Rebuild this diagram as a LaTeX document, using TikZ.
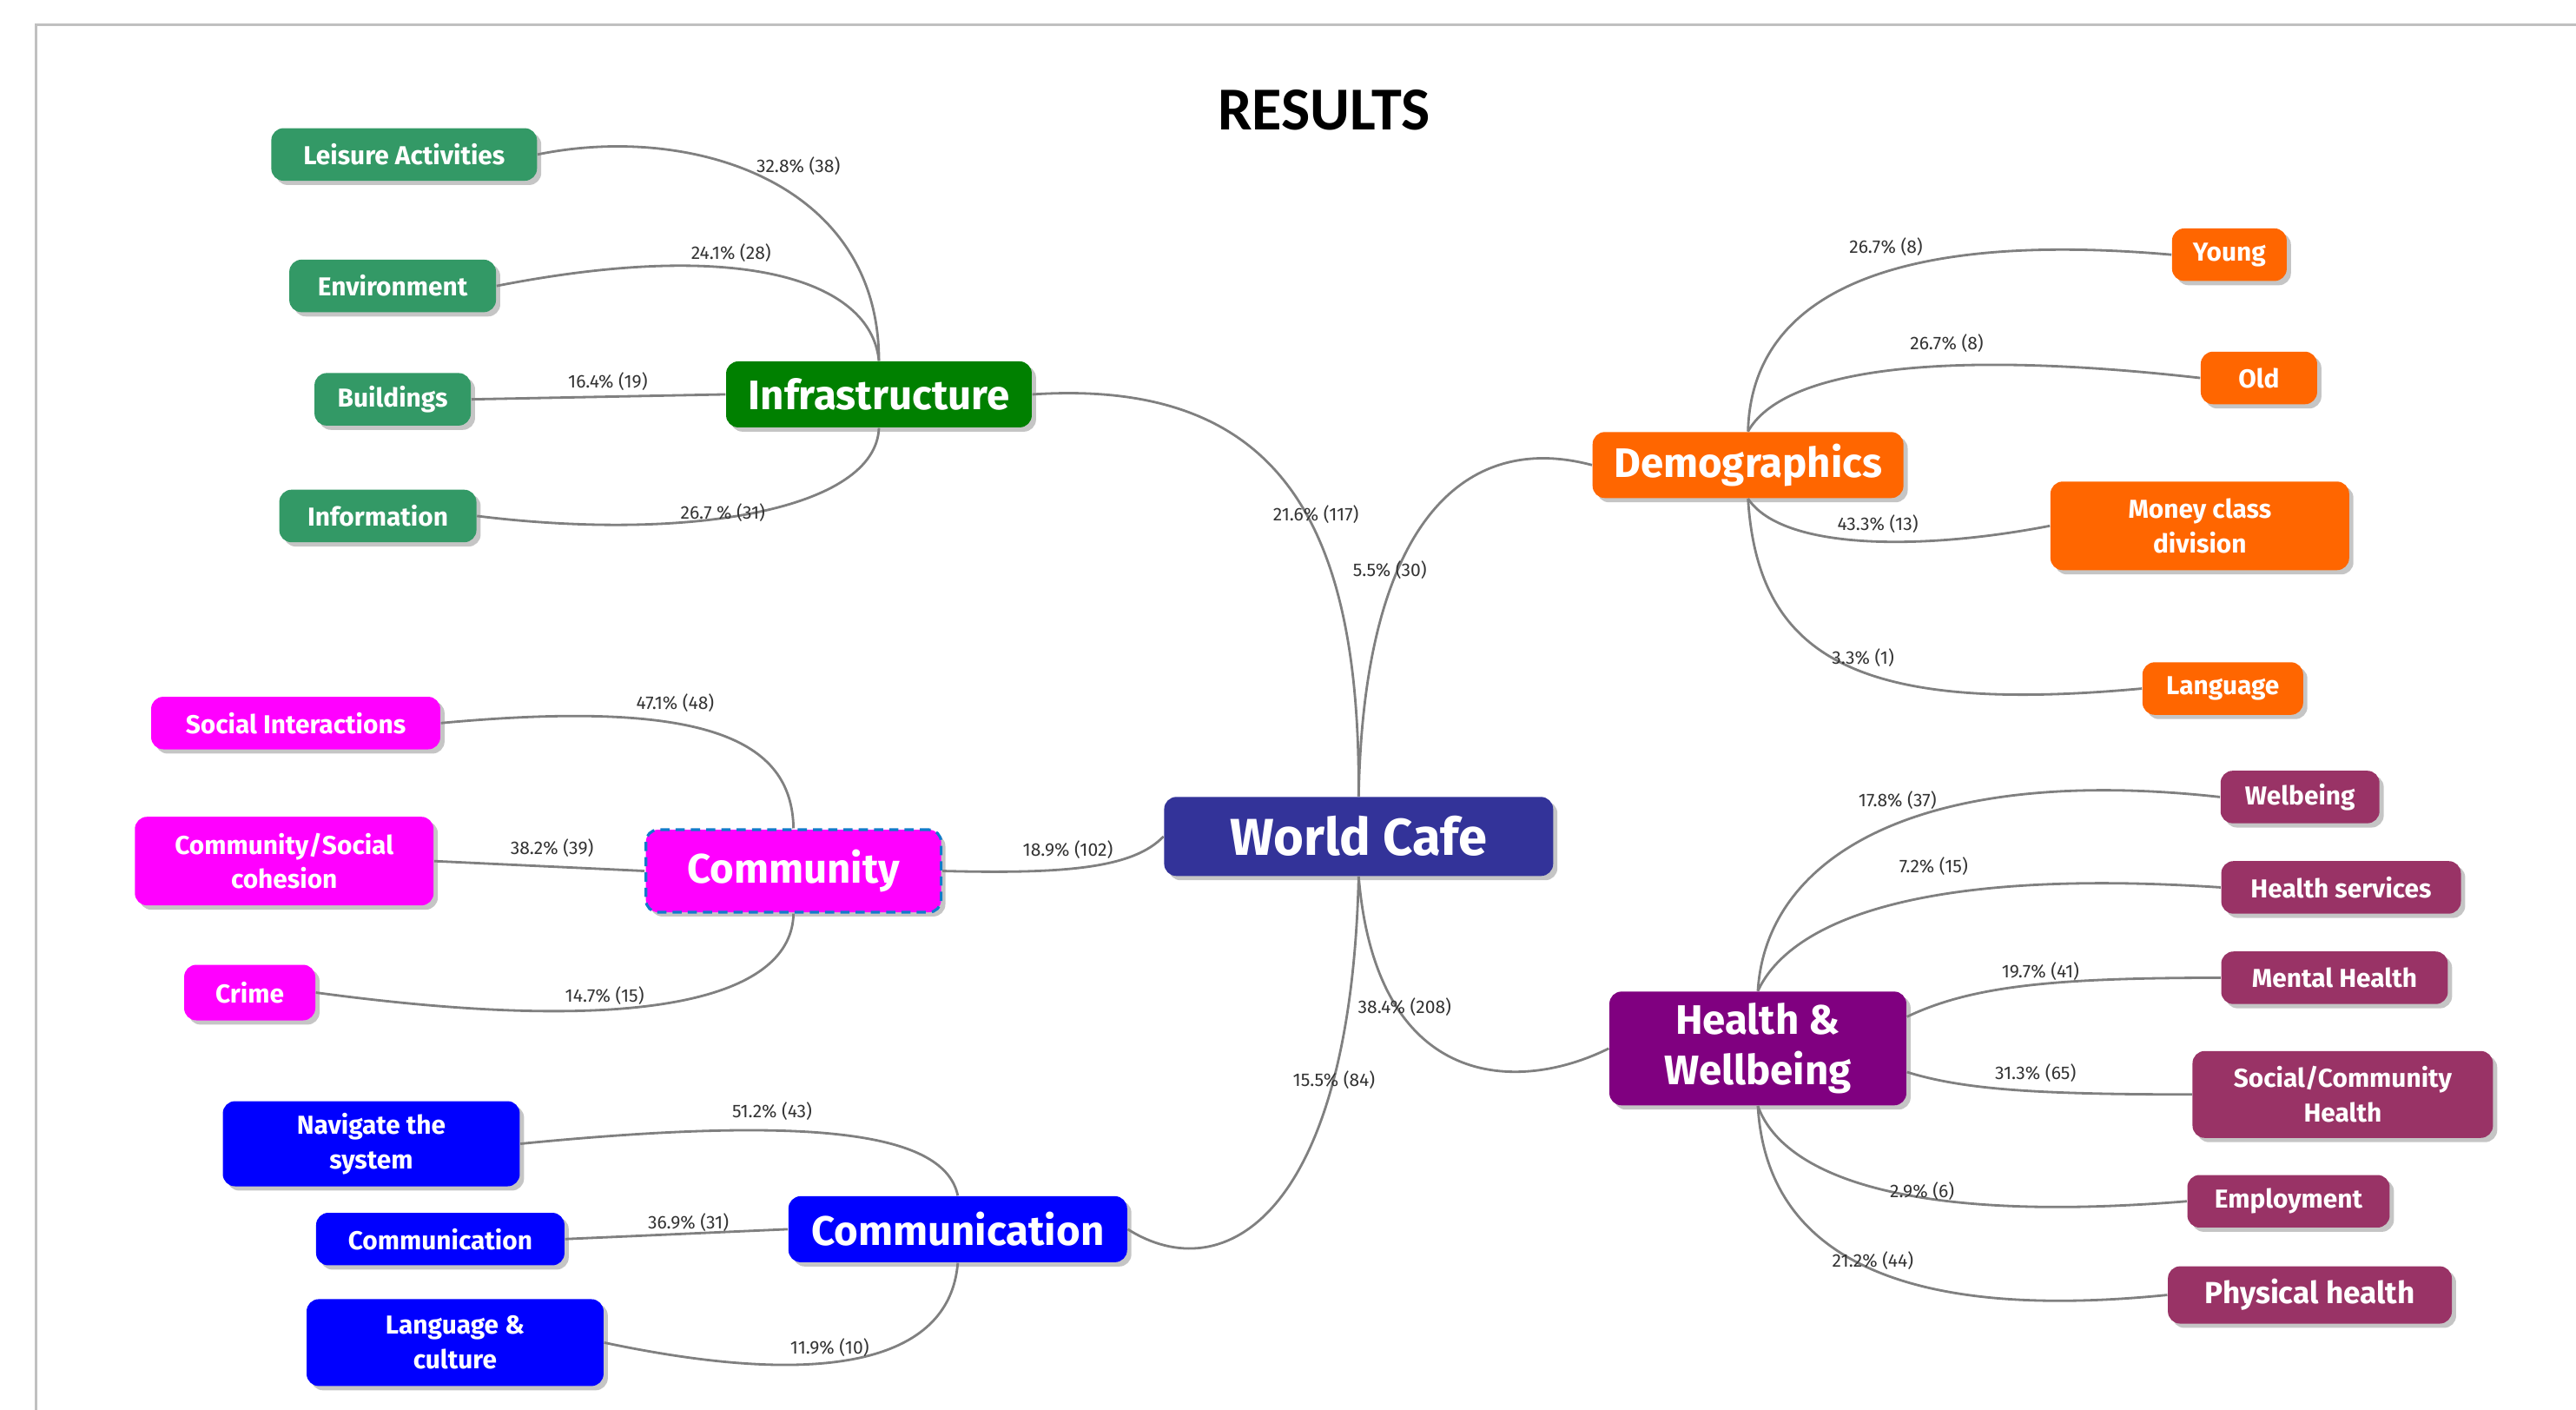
\documentclass[tikz,border=0pt]{standalone}
\usepackage{fontspec}
\setmainfont{Fira Sans}
\newfontfamily\titlefont{Carlito}
\usetikzlibrary{shadows}

\definecolor{infraGreen}{HTML}{008000}
\definecolor{leafGreen}{HTML}{339966}
\definecolor{demoOrange}{HTML}{FF6600}
\definecolor{commMagenta}{HTML}{FF00FF}
\definecolor{commBlue}{HTML}{0000FF}
\definecolor{cafeBlue}{HTML}{333399}
\definecolor{healthPurple}{HTML}{800080}
\definecolor{leafPlum}{HTML}{993366}
\definecolor{linkGray}{HTML}{808080}
\definecolor{frameGray}{HTML}{C0C0C0}

\begin{document}
\begin{tikzpicture}[
  x=0.018916cm, y=-0.018916cm,
  box/.style = {rounded corners=4pt, text=white, align=center, inner sep=2pt,
    drop shadow={shadow xshift=1.4pt, shadow yshift=-1.4pt, fill=black!45}},
  leaf/.style = {box, minimum height=0.605cm, font=\fontsize{8.5}{11.3}\selectfont\bfseries},
  topic/.style = {box, minimum height=0.76cm, font=\fontsize{13.5}{16.6}\selectfont\bfseries},
  link/.style = {draw=linkGray, line width=0.8pt},
  pct/.style = {font=\fontsize{6}{7}\selectfont, text=black!80, inner sep=0.5pt}
]
  \useasboundingbox (0,0) rectangle (1568,858);

  % frame and title
  \draw[frameGray, line width=0.8pt] (22,858) -- (22,15) -- (1568,15);
  \node[font=\titlefont\fontsize{20}{24}\selectfont\bfseries] (title) at (806,67) {RESULTS};

  % World Cafe
  \node[topic, fill=cafeBlue, minimum width=4.48cm, minimum height=0.91cm,
        font=\fontsize{17}{20}\selectfont\bfseries] (cafe) at (827,509) {World Cafe};

  % Infrastructure
  \node[topic, fill=infraGreen, minimum width=3.52cm] (inf) at (535,240) {Infrastructure};
  \node[leaf, fill=leafGreen, minimum width=3.06cm] (lei) at (246,94) {Leisure Activities};
  \node[leaf, fill=leafGreen, minimum width=2.38cm] (env) at (239,174) {Environment};
  \node[leaf, fill=leafGreen, minimum width=1.80cm] (bld) at (239,243) {Buildings};
  \node[leaf, fill=leafGreen, minimum width=2.27cm] (info) at (230,314) {Information};

  % Demographics
  \node[topic, fill=demoOrange, minimum width=3.58cm] (demo) at (1064,283) {Demographics};
  \node[leaf, fill=demoOrange, minimum width=1.32cm] (young) at (1357,155) {Young};
  \node[leaf, fill=demoOrange, minimum width=1.34cm] (old) at (1375,230) {Old};
  \node[leaf, fill=demoOrange, minimum width=3.44cm, minimum height=1.02cm] (money) at (1339,320) {Money class\\division};
  \node[leaf, fill=demoOrange, minimum width=1.85cm] (lang) at (1353,419) {Language};

  % Community
  \node[topic, fill=commMagenta, minimum width=3.40cm, minimum height=0.95cm,
        draw=cyan!60!blue, densely dashed, line width=0.9pt] (com) at (483,530) {Community};
  \node[leaf, fill=commMagenta, minimum width=3.33cm] (soc) at (180,440) {Social Interactions};
  \node[leaf, fill=commMagenta, minimum width=3.44cm, minimum height=1.02cm] (coh) at (173,524) {Community/Social\\cohesion};
  \node[leaf, fill=commMagenta, minimum width=1.51cm, minimum height=0.64cm] (crime) at (152,604) {Crime};

  % Communication
  \node[topic, fill=commBlue, minimum width=3.90cm] (cmm) at (583,748) {Communication};
  \node[leaf, fill=commBlue, minimum width=3.42cm, minimum height=0.98cm] (nav) at (226,696) {Navigate the\\system};
  \node[leaf, fill=commBlue, minimum width=2.86cm] (cms) at (268,754) {Communication};
  \node[leaf, fill=commBlue, minimum width=3.42cm, minimum height=1.0cm] (cult) at (277,817) {Language \&\\culture};

  % Health & Wellbeing
  \node[topic, fill=healthPurple, minimum width=3.42cm, minimum height=1.31cm] (hw) at (1070,638) {Health \&\\Wellbeing};
  \node[leaf, fill=leafPlum, minimum width=1.83cm] (wb) at (1400,485) {Welbeing};
  \node[leaf, fill=leafPlum, minimum width=2.76cm] (hs) at (1425,540) {Health services};
  \node[leaf, fill=leafPlum, minimum width=2.61cm] (mh) at (1421,595) {Mental Health};
  \node[leaf, fill=leafPlum, minimum width=3.46cm, minimum height=1.0cm] (sch) at (1426,666) {Social/Community\\Health};
  \node[leaf, fill=leafPlum, minimum width=2.33cm] (emp) at (1393,731) {Employment};
  \node[leaf, fill=leafPlum, minimum width=3.27cm, minimum height=0.66cm,
        font=\fontsize{10}{12}\selectfont\bfseries] (phy) at (1406,788) {Physical health};

  % links to World Cafe
  \draw[link] (inf.east) .. controls (780,230) and (828,320) .. (cafe.north);
  \draw[link] (demo.west) .. controls (890,262) and (830,320) .. (cafe.north);
  \draw[link] (com.east) .. controls (650,532) and (690,528) .. (cafe.west);
  \draw[link] (cmm.east) .. controls (745,785) and (822,740) .. (cafe.south);
  \draw[link] (hw.west) .. controls (925,665) and (838,665) .. (cafe.south);

  % Infrastructure links
  \draw[link] (inf.north) .. controls (535,110) and (420,75) .. (lei.east);
  \draw[link] (inf.north) .. controls (530,170) and (450,145) .. (env.east);
  \draw[link] (inf.west) -- (bld.east);
  \draw[link] (inf.south) .. controls (533,310) and (420,330) .. (info.east);

  % Demographics links
  \draw[link] (demo.north) .. controls (1066,180) and (1150,140) .. (young.west);
  \draw[link] (demo.north) .. controls (1085,225) and (1180,212) .. (old.west);
  \draw[link] (demo.south) .. controls (1085,335) and (1170,335) .. (money.west);
  \draw[link] (demo.south) .. controls (1070,400) and (1130,435) .. (lang.west);

  % Community links
  \draw[link] (com.north) .. controls (482,450) and (430,425) .. (soc.east);
  \draw[link] (com.west) -- (coh.east);
  \draw[link] (com.south) .. controls (482,605) and (400,632) .. (crime.east);

  % Communication links
  \draw[link] (cmm.north) .. controls (575,690) and (500,678) .. (nav.east);
  \draw[link] (cmm.west) -- (cms.east);
  \draw[link] (cmm.south) .. controls (578,830) and (500,845) .. (cult.east);

  % Health links
  \draw[link] (hw.north) .. controls (1075,520) and (1170,465) .. (wb.west);
  \draw[link] (hw.north) .. controls (1090,560) and (1170,528) .. (hs.west);
  \draw[link] (hw.12) .. controls (1200,600) and (1250,595) .. (mh.west);
  \draw[link] (hw.-9) .. controls (1195,663) and (1240,666) .. (sch.west);
  \draw[link] (hw.south) .. controls (1085,715) and (1160,745) .. (emp.west);
  \draw[link] (hw.south) .. controls (1075,760) and (1150,805) .. (phy.west);

  % percentages
  \node[pct] (p1) at (801,313) {21.6\% (117)};
  \node[pct] (p2) at (846,347) {5.5\% (30)};
  \node[pct] (p3) at (650,517) {18.9\% (102)};
  \node[pct] (p4) at (812,657) {15.5\% (84)};
  \node[pct] (p5) at (855,613) {38.4\% (208)};

  \node[pct] (p6) at (486,101) {32.8\% (38)};
  \node[pct] (p7) at (445,154) {24.1\% (28)};
  \node[pct] (p8) at (370,232) {16.4\% (19)};
  \node[pct] (p9) at (440,312) {26.7 \% (31)};

  \node[pct] (p10) at (1148,150) {26.7\% (8)};
  \node[pct] (p11) at (1185,209) {26.7\% (8)};
  \node[pct] (p12) at (1143,319) {43.3\% (13)};
  \node[pct] (p13) at (1134,400) {3.3\% (1)};

  \node[pct] (p14) at (411,428) {47.1\% (48)};
  \node[pct] (p15) at (336,516) {38.2\% (39)};
  \node[pct] (p16) at (368,606) {14.7\% (15)};

  \node[pct] (p17) at (470,676) {51.2\% (43)};
  \node[pct] (p18) at (419,744) {36.9\% (31)};
  \node[pct] (p19) at (505,820) {11.9\% (10)};

  \node[pct] (p20) at (1155,487) {17.8\% (37)};
  \node[pct] (p21) at (1177,527) {7.2\% (15)};
  \node[pct] (p22) at (1242,591) {19.7\% (41)};
  \node[pct] (p23) at (1239,653) {31.3\% (65)};
  \node[pct] (p24) at (1170,725) {2.9\% (6)};
  \node[pct] (p25) at (1140,767) {21.2\% (44)};

\end{tikzpicture}
\end{document}
